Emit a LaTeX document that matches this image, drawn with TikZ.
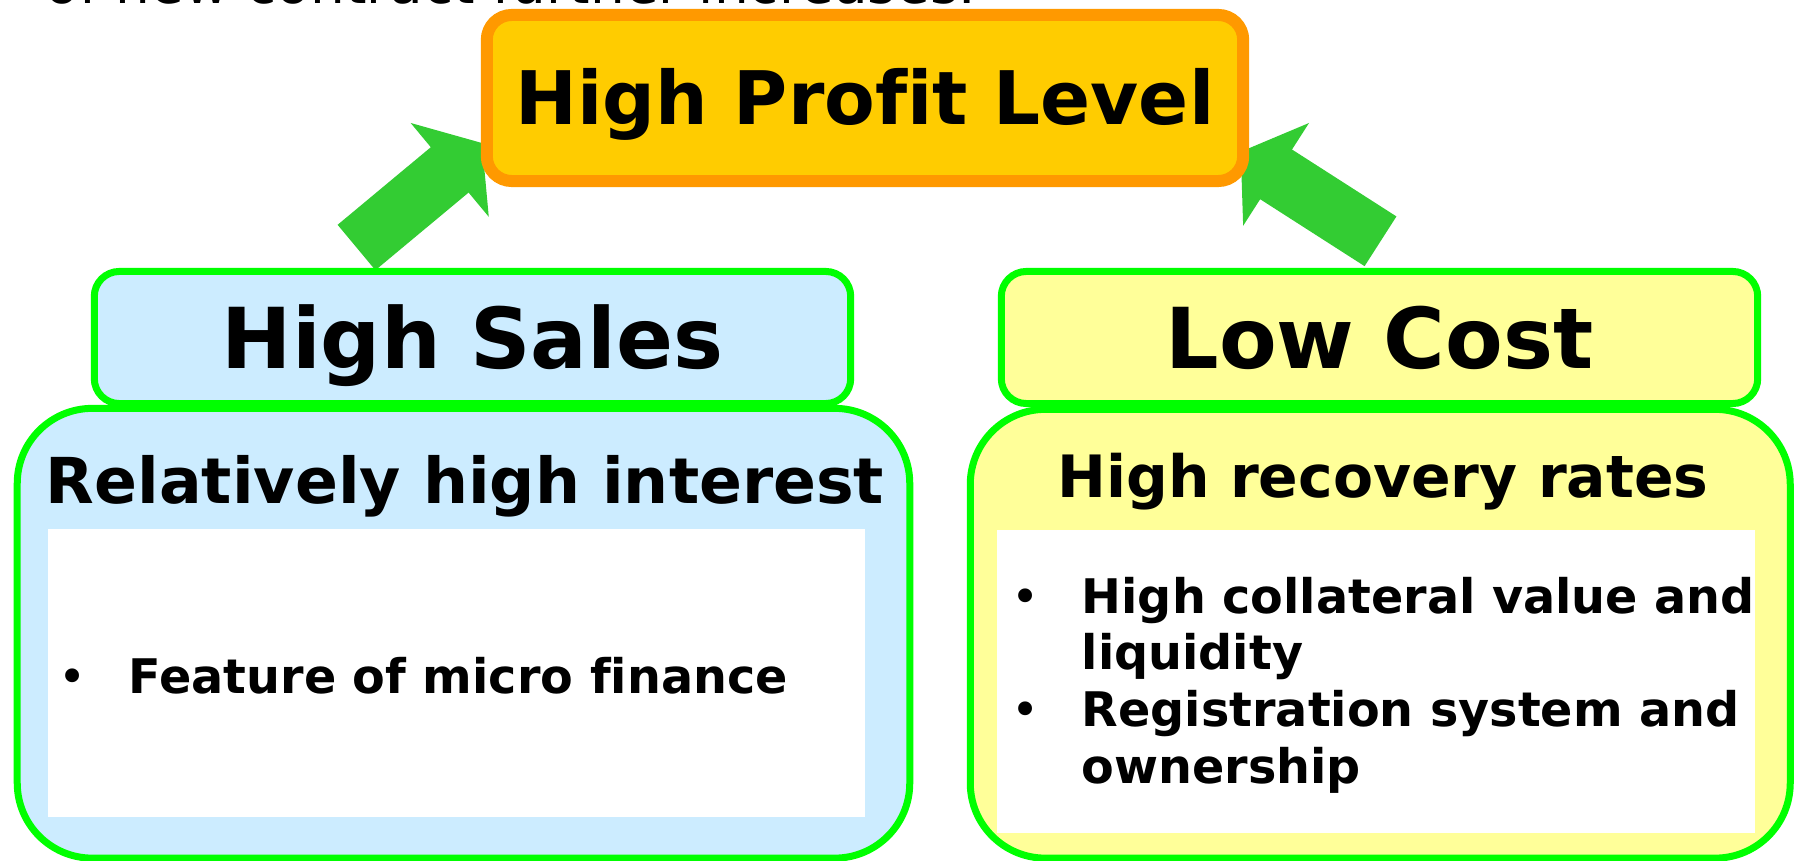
\documentclass[tikz,border=0pt]{standalone}
\usepackage{fontspec}
\setmainfont{DejaVu Sans}[Ligatures=CommonOff]
\usetikzlibrary{arrows.meta}

\definecolor{profitfill}{HTML}{FFCC00}
\definecolor{profitline}{HTML}{FF9900}
\definecolor{salesfill}{HTML}{CCECFF}
\definecolor{costfill}{HTML}{FFFF99}
\definecolor{boxline}{HTML}{00FF00}
\definecolor{arrowgreen}{HTML}{33CC33}

\tikzset{
	profitbox/.style={draw=profitline, fill=profitfill, line width=1.2mm, rounded corners=2.5mm,
		minimum width=7.56cm, minimum height=1.66cm, inner sep=0pt,
		font=\bfseries\fontsize{21}{25}\selectfont, text height=15.3pt, text depth=0pt},
	headbox/.style={draw=boxline, line width=0.7mm, rounded corners=2.5mm,
		minimum width=7.56cm, minimum height=1.32cm, inner sep=0pt,
		font=\bfseries\fontsize{23.9}{28}\selectfont, text height=17.4pt, text depth=0pt},
	bodybox/.style={draw=boxline, line width=0.7mm, rounded corners=7.5mm, inner sep=0pt},
	panel/.style={fill=white, inner sep=0pt},
	titletext/.style={anchor=base, inner sep=0pt, font=\bfseries\fontsize{18}{22}\selectfont},
	itemtext/.style={anchor=base west, inner sep=0pt, font=\bfseries\fontsize{13.55}{16.2}\selectfont},
	bigarrow/.style={arrowgreen, line width=5.9mm, -{Triangle[width=12mm, length=4.2mm]}}
}
\newcommand{\bulletmark}{\makebox[0.7cm][l]{\mdseries\textbullet}}

\begin{document}
\begin{tikzpicture}[x=0.01cm, y=-0.01cm]
	\clip (0,0) rectangle (1794,861);
	% lead-in line, mostly cut off at the top
	\node[anchor=base west, inner sep=0pt, font=\fontsize{15.6}{18}\selectfont] (lead) at (45,4) {of new contract further increases.};

	% arrows go under the boxes
	\coordinate (salestail) at (356.5,247.5);
	\coordinate (salestip) at (482,143);
	\coordinate (costtail) at (1380.5,241.3);
	\coordinate (costtip) at (1240.7,151.7);
	\draw[bigarrow] (salestail) -- (salestip);
	\draw[bigarrow] (costtail) -- (costtip);

	\node[profitbox] (profit) at (865,98) {High Profit Level};

	% heads
	\node[headbox, fill=salesfill] (sales) at (472.5,337.5) {High Sales};
	\node[headbox, fill=costfill] (cost) at (1379.5,337.5) {Low Cost};

	% bodies
	\node[bodybox, fill=salesfill, minimum width=8.92cm, minimum height=4.495cm] (salesbody) at (463.5,633.25) {};
	\node[bodybox, fill=costfill, minimum width=8.195cm, minimum height=4.485cm] (costbody) at (1380.25,633.75) {};
	\node[panel, minimum width=8.17cm, minimum height=2.88cm] (salespanel) at (456.5,673) {};
	\node[panel, minimum width=7.58cm, minimum height=3.03cm] (costpanel) at (1376,681.5) {};

	\node[titletext] (salestitle) at (465,504) {Relatively high interest};
	\node[titletext, font=\bfseries\fontsize{16.6}{20}\selectfont] (costtitle) at (1383,498) {High recovery rates};

	\node[itemtext] (salesitem) at (58,693) {\bulletmark Feature of micro finance};
	\node[itemtext] (costitems) at (1011,613) {\begin{tabular}[t]{@{}l@{}l@{}}
		\bulletmark & High collateral value and\\
		& liquidity\\
		\bulletmark & Registration system and\\
		& ownership
	\end{tabular}};
\end{tikzpicture}
\end{document}
